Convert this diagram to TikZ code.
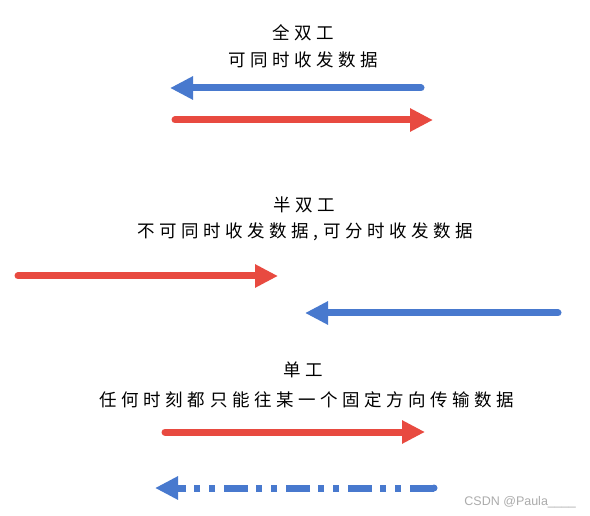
\documentclass[tikz,border=0pt]{standalone}
\usepackage{fontspec}
\setmainfont{Liberation Sans}
\newfontfamily\cjk[LetterSpace=26]{Noto Sans CJK SC}
\usepackage{tikz}
\usetikzlibrary{arrows.meta}

\definecolor{sendred}{RGB}{232,74,64}
\definecolor{sendblue}{RGB}{72,121,206}

\begin{document}
\begin{tikzpicture}[x=1pt,y=-1pt,
    title/.style={font=\cjk\fontsize{17.5}{20}\selectfont,inner sep=0pt},
    flow/.style={line width=7pt,line cap=round,-{Triangle[length=23pt,width=22pt]}},
    redflow/.style={flow,sendred},
    blueflow/.style={flow,sendblue},
    onlyway/.style={line width=7pt,sendblue,dash pattern=on 24pt off 9pt on 6pt off 9pt on 6pt off 8pt}]
  \useasboundingbox (0,0) rectangle (590,516);
  % full duplex
  \node[title] (full) at (303,33) {全双工};
  \node[title] (fullnote) at (303,60) {可同时收发数据};
  \coordinate (fbA) at (421,88);  \coordinate (fbB) at (170,88);
  \coordinate (frA) at (175,120); \coordinate (frB) at (433,120);
  \draw[blueflow] (fbA) -- (fbB);
  \draw[redflow] (frA) -- (frB);
  % half duplex
  \node[title] (half) at (304,205) {半双工};
  \node[title] (halfnote) at (305,232) {不可同时收发数据,可分时收发数据};
  \coordinate (hrA) at (18,276);  \coordinate (hrB) at (278,276);
  \coordinate (hbA) at (558,313); \coordinate (hbB) at (305,313);
  \draw[redflow] (hrA) -- (hrB);
  \draw[blueflow] (hbA) -- (hbB);
  % simplex
  \node[title] (simplex) at (303,370) {单工};
  \node[title] (simplexnote) at (307,400) {任何时刻都只能往某一个固定方向传输数据};
  \coordinate (srA) at (165,432); \coordinate (srB) at (425,432);
  \coordinate (sbA) at (434,488); \coordinate (sbB) at (155,488);
  \coordinate (sbC) at (182,488);
  \draw[redflow] (srA) -- (srB);
  \draw[onlyway] (sbA) -- (sbC);
  \draw[blueflow,line cap=butt] (sbC) -- (sbB);
  \fill[sendblue] (sbA) circle (3.5pt);
  % watermark
  \node[font=\fontsize{12.5}{14}\selectfont,text=black!33,anchor=east,inner sep=0pt] (mark) at (576,502) {CSDN @Paula\_\_\_\_};
\end{tikzpicture}
\end{document}
